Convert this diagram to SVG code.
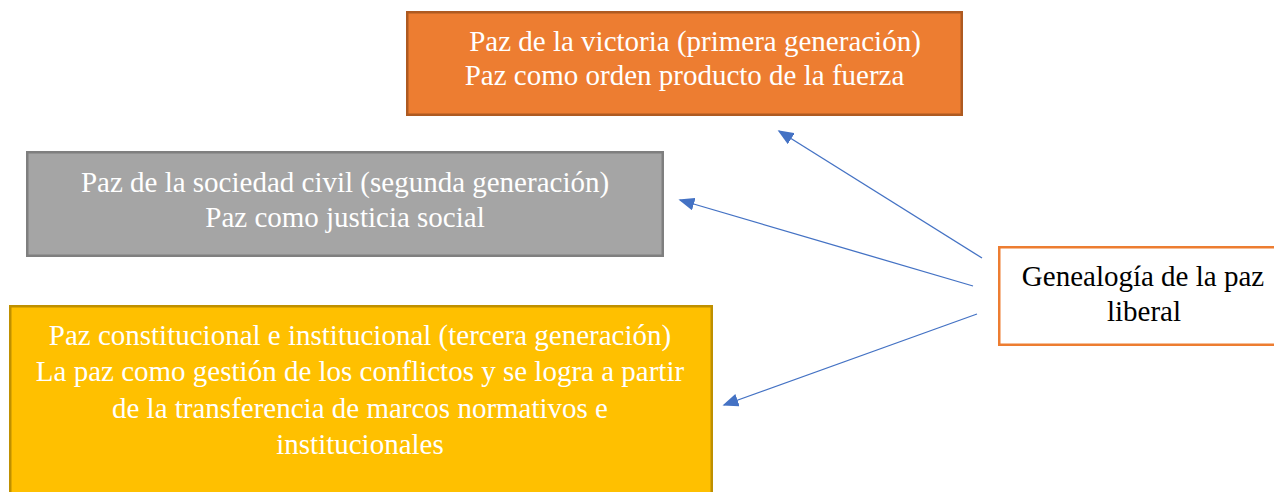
<svg xmlns="http://www.w3.org/2000/svg" width="1274" height="492" viewBox="0 0 1274 492">
  <defs>
    <style>
      .t { font-family: "Liberation Serif", "Times New Roman", Times, serif; font-size: 29px; text-anchor: middle; }
      .w { fill: #FFFFFF; }
      .k { fill: #000000; }
      .conn { stroke: #4472C4; stroke-width: 1.3; fill: none; marker-end: url(#ah); }
    </style>
    <marker id="ah" viewBox="0 0 10 10" refX="9" refY="5" markerWidth="16" markerHeight="13" markerUnits="userSpaceOnUse" orient="auto" preserveAspectRatio="none">
      <path d="M0,0 L10,5 L0,10 z" fill="#4472C4"/>
    </marker>
  </defs>
  <rect width="1274" height="492" fill="#FFFFFF"/>

  <g id="node-primera">
    <rect x="407.25" y="12.25" width="554.5" height="102.5" fill="#ED7D31" stroke="#AE5A21" stroke-width="2.5"/>
    <text class="t w" x="695" y="51">Paz de la victoria (primera generación)</text>
    <text class="t w" x="684.5" y="85">Paz como orden producto de la fuerza</text>
  </g>

  <g id="node-segunda">
    <rect x="27.25" y="152.25" width="635.5" height="103.5" fill="#A5A5A5" stroke="#7F7F7F" stroke-width="2.5"/>
    <text class="t w" x="345" y="192">Paz de la sociedad civil (segunda generación)</text>
    <text class="t w" x="345" y="227">Paz como justicia social</text>
  </g>

  <g id="node-tercera">
    <rect x="10.25" y="306.25" width="701.5" height="200" fill="#FFC000" stroke="#BF9000" stroke-width="2.5"/>
    <text class="t w" x="360" y="345">Paz constitucional e institucional (tercera generación)</text>
    <text class="t w" x="360" y="381">La paz como gestión de los conflictos y se logra a partir</text>
    <text class="t w" x="360" y="418">de la transferencia de marcos normativos e</text>
    <text class="t w" x="360" y="454">institucionales</text>
  </g>

  <g id="node-genealogia">
    <rect x="999.25" y="247.25" width="290" height="97.5" fill="#FFFFFF" stroke="#ED7D31" stroke-width="2.5"/>
    <text class="t k" x="1143" y="286">Genealogía de la paz</text>
    <text class="t k" x="1144" y="321">liberal</text>
  </g>

  <g id="connectors">
    <line class="conn" x1="982" y1="258" x2="779" y2="131"/>
    <line class="conn" x1="973" y1="286" x2="680" y2="200"/>
    <line class="conn" x1="977" y1="314" x2="724" y2="405"/>
  </g>
</svg>
